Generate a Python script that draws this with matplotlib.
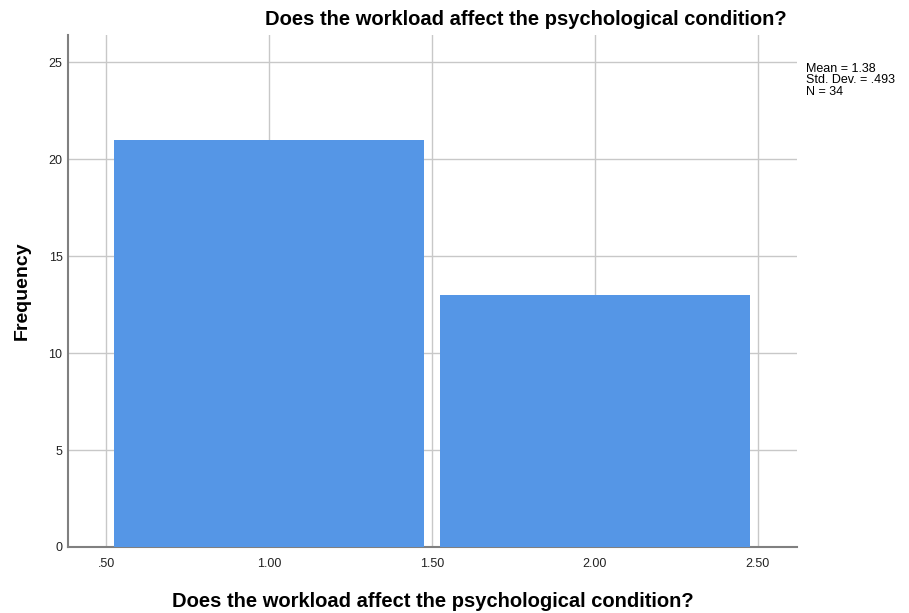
import numpy as np
import matplotlib.pyplot as plt

plt.rcParams['font.family'] = ['Liberation Sans', 'DejaVu Sans']

# histogram data (values 1 and 2)
bin_edges = [0.5, 1.5, 2.5]
counts = [21, 13]
centers = [1.0, 2.0]
xticks = [0.5, 1.0, 1.5, 2.0, 2.5]
xtick_labels = ['.50', '1.00', '1.50', '2.00', '2.50']
yticks = [0, 5, 10, 15, 20, 25]
stats = 'Mean = 1.38\nStd. Dev. = .493\nN = 34'
title = 'Does the workload affect the psychological condition?'

fig = plt.figure(figsize=(9.09, 6.13), dpi=100)
ax = fig.add_axes([0.0748, 0.1077, 0.802, 0.8352])

ax.hist(centers, bins=bin_edges, weights=counts, rwidth=0.95,
        color='#5596e6', edgecolor='none', zorder=3)

ax.set_xlim(0.383, 2.62)
ax.set_ylim(0, 26.4)
ax.set_xticks(xticks)
ax.set_xticklabels(xtick_labels)
ax.set_yticks(yticks)
ax.grid(True, color='#c8c8c8', linewidth=1, zorder=0)
ax.set_axisbelow(True)

for s in ['top', 'right']:
    ax.spines[s].set_visible(False)
for s in ['left', 'bottom']:
    ax.spines[s].set_color('#808080')
    ax.spines[s].set_linewidth(1.5)
ax.tick_params(axis='both', labelsize=9, colors='#222222', length=0)
ax.tick_params(axis='x', pad=8)
ax.tick_params(axis='y', pad=4)

# labels and titles
fig.text(0.025, 0.525, 'Frequency', fontsize=14, fontweight='bold',
         rotation=90, ha='center', va='center')
fig.text(0.476, 0.0098, title, fontsize=14.5, fontweight='bold', ha='center', va='baseline')
fig.text(0.578, 0.969, title, fontsize=14.5, fontweight='bold', ha='center', va='center')
fig.text(0.887, 0.897, stats, fontsize=9, ha='left', va='top', linespacing=0.92)

fig.savefig('out.png', dpi=100)
